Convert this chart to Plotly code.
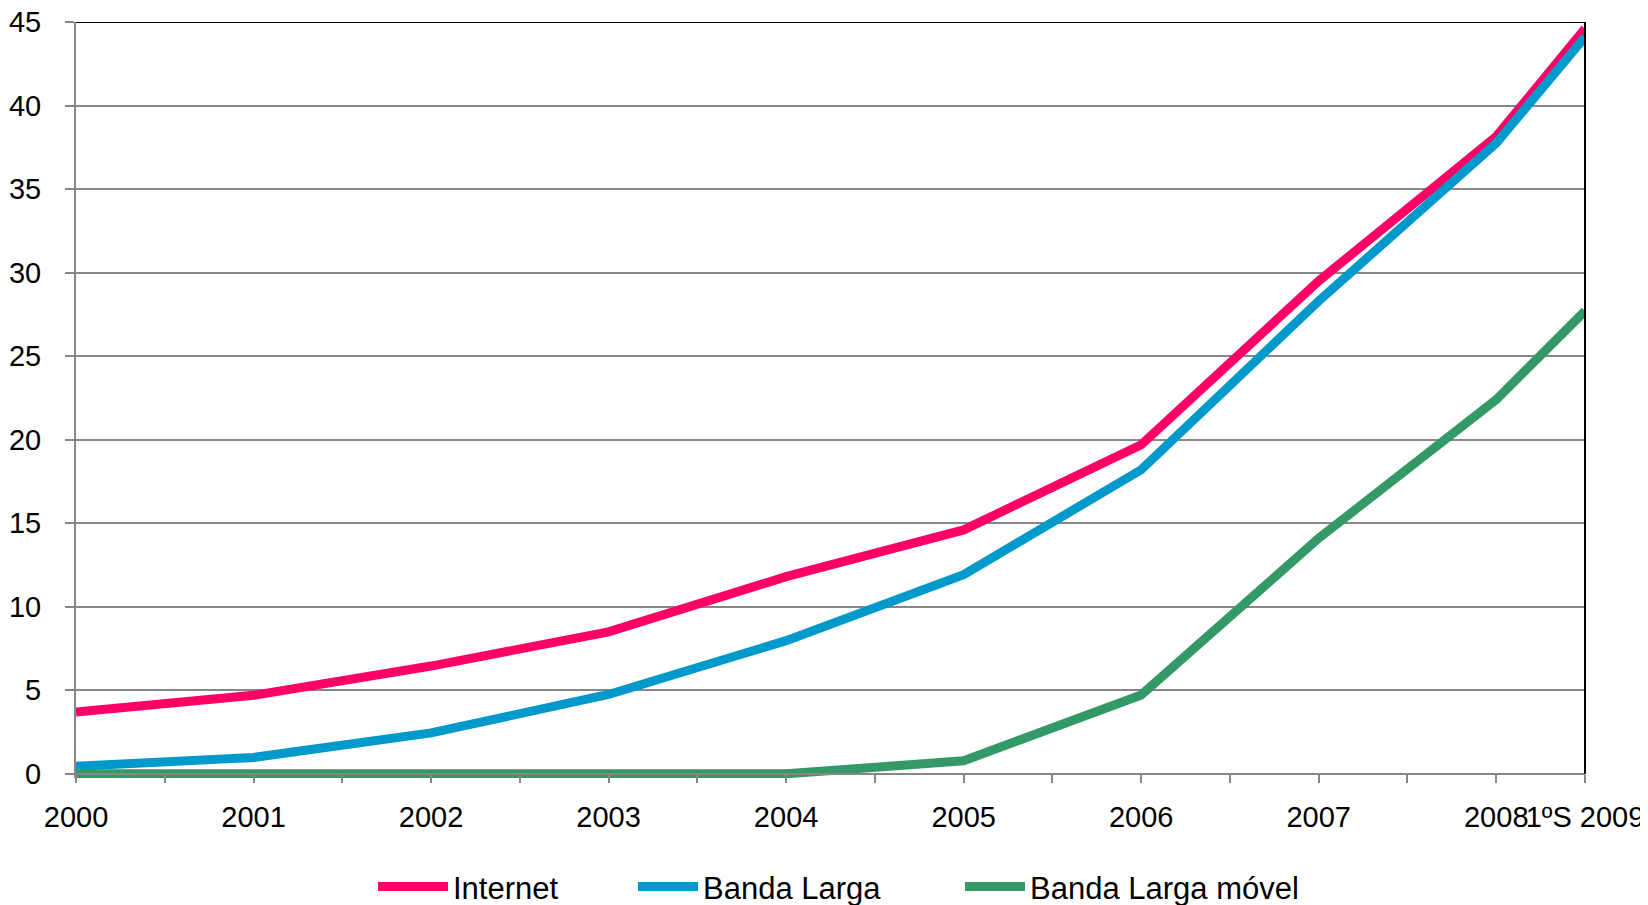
import plotly.graph_objects as go

# Data
x_pos = [0, 1, 2, 3, 4, 5, 6, 7, 8, 8.5]
x_labels = ["2000", "2001", "2002", "2003", "2004", "2005", "2006", "2007", "2008", "1ºS 2009"]
internet = [3.7, 4.7, 6.45, 8.5, 11.8, 14.6, 19.7, 29.5, 38.15, 44.6]
banda_larga = [0.45, 0.98, 2.45, 4.75, 7.97, 11.92, 18.2, 28.3, 37.75, 44.1]
banda_larga_movel = [0, 0, 0, 0, 0, 0.78, 4.72, 14.1, 22.4, 27.7]
y_ticks = [0, 5, 10, 15, 20, 25, 30, 35, 40, 45]

series = [
    ("Internet", internet, "#FF0066", "legend"),
    ("Banda Larga", banda_larga, "#0099CC", "legend2"),
    ("Banda Larga móvel", banda_larga_movel, "#339966", "legend3"),
]

fig = go.Figure()
for name, vals, color, leg in series:
    fig.add_trace(go.Scatter(
        x=x_pos, y=vals, name=name, mode="lines",
        line=dict(color=color, width=9), legend=leg,
    ))

ymin = -0.25
ymax = 45
zero_pos = (0 - ymin) / (ymax - ymin)

L, R = 68, 71
plot_w = 1648 - L - R


def leg_x(px):
    return (px - L) / plot_w


leg_common = dict(orientation="h", xanchor="left", y=-0.144, yanchor="middle",
                  font=dict(size=31), bgcolor="rgba(0,0,0,0)")

fig.update_layout(
    width=1648, height=905,
    margin=dict(l=L, r=R, t=14, b=135, autoexpand=False),
    paper_bgcolor="white", plot_bgcolor="white",
    font=dict(family="Liberation Sans, Arial, sans-serif", size=29, color="black"),
    showlegend=True,
    legend=dict(x=leg_x(365), itemwidth=70, **leg_common),
    legend2=dict(x=leg_x(625), itemwidth=60, **leg_common),
    legend3=dict(x=leg_x(952), itemwidth=60, **leg_common),
    xaxis=dict(
        range=[0, 8.5],
        tickmode="array", tickvals=x_pos, ticktext=x_labels,
        tickangle=0, ticklabeloverflow="allow", automargin=False,
        ticks="outside", ticklen=8, tickwidth=2, tickcolor="#878787",
        showline=True, linecolor="#878787", linewidth=2,
        showgrid=False, zeroline=False,
        anchor="free", position=zero_pos,
        minor=dict(dtick=0.5, tick0=0, ticks="outside", ticklen=8,
                   tickwidth=2, tickcolor="#878787", showgrid=False),
        tickfont=dict(size=29),
        ticklabelstandoff=9,
    ),
    yaxis=dict(
        range=[ymin, ymax], automargin=False,
        tickmode="array", tickvals=y_ticks,
        ticklabeloverflow="allow",
        ticks="outside", ticklen=9, tickwidth=2, tickcolor="#878787",
        showline=True, linecolor="#878787", linewidth=2,
        showgrid=True, gridcolor="#878787", gridwidth=2,
        zeroline=False,
        tickfont=dict(size=29),
        ticklabelstandoff=18,
    ),
    shapes=[
        dict(type="line", xref="paper", yref="y", x0=0, x1=1, y0=ymax, y1=ymax,
             line=dict(color="black", width=2)),
        dict(type="line", xref="paper", yref="y", x0=1, x1=1, y0=0, y1=ymax,
             line=dict(color="black", width=2)),
    ],
)

fig.write_html("out.html")
